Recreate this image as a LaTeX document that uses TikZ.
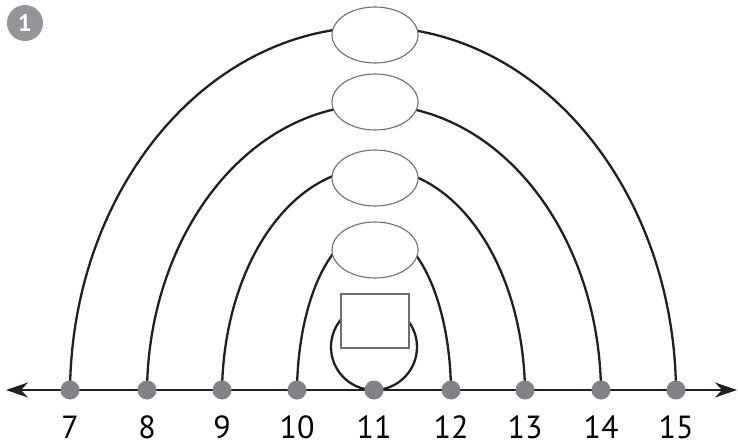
\documentclass[tikz,border=0pt]{standalone}
\usepackage{fontspec}
\setmainfont{PT Sans}
\usetikzlibrary{arrows.meta,shapes.geometric}
\definecolor{ink}{HTML}{231F20}
\definecolor{dotgray}{HTML}{808285}
\definecolor{shapegray}{HTML}{6D6E71}
\definecolor{badgegray}{HTML}{939598}
\begin{document}
\begin{tikzpicture}[x=1pt,y=1pt,
  arcline/.style={draw=ink,line width=2.3pt},
  blank/.style={shape=ellipse,minimum width=86pt,minimum height=56pt,inner sep=0pt,draw=shapegray,line width=1.1pt,fill=white},
  boxblank/.style={shape=rectangle,minimum width=68pt,minimum height=54pt,inner sep=0pt,draw=shapegray,line width=1.1pt,fill=white},
  dot/.style={circle,fill=dotgray,minimum size=19pt,inner sep=0pt},
  lbl/.style={font=\fontsize{32}{32}\selectfont,text=black,inner sep=0pt,anchor=base},
  badge/.style={circle,fill=badgegray,minimum size=36pt,inner sep=0pt,text=white,font=\fontsize{24}{24}\selectfont\bfseries}
]
\useasboundingbox (0,0) rectangle (738,445);
% badge
\node[badge] (badge) at (25,422) {1};
% number line
\coordinate (L) at (6,55);
\coordinate (R) at (737,55);
\draw[draw=ink,line width=2pt,{Stealth[length=22pt,width=15pt,inset=7pt]}-{Stealth[length=22pt,width=15pt,inset=7pt]}] (L) -- (R);
% dot coordinates
\coordinate (p7) at (70,55);
\coordinate (p8) at (147,55);
\coordinate (p9) at (222,55);
\coordinate (p10) at (297,55);
\coordinate (p11) at (374,55);
\coordinate (p12) at (451,55);
\coordinate (p13) at (525,55);
\coordinate (p14) at (601,55);
\coordinate (p15) at (676,55);
% arc tops
\coordinate (tA) at (373,418);
\coordinate (tB) at (374,340);
\coordinate (tC) at (373.5,277);
\coordinate (tD) at (374,216);
% arcs
\draw[arcline] (p7) .. controls +(2,200) and +(-167,0) .. (tA) .. controls +(167,0) and +(-2,200) .. (p15);
\draw[arcline] (p8) .. controls +(2,157) and +(-125,0) .. (tB) .. controls +(125,0) and +(-2,157) .. (p14);
\draw[arcline] (p9) .. controls +(2,123) and +(-84,0) .. (tC) .. controls +(84,0) and +(-2,123) .. (p13);
\draw[arcline] (p10) .. controls +(1,89) and +(-43,0) .. (tD) .. controls +(43,0) and +(-1,89) .. (p12);
% loop at 11
\draw[arcline] (p11) arc[start angle=-90,delta angle=360,radius=43];
% blanks
\node[blank] (e1) at (375,410) {};
\node[blank] (e2) at (375,343) {};
\node[blank] (e3) at (375,267) {};
\node[blank] (e4) at (375,195) {};
\node[boxblank] (sq) at (375,124) {};
% dots and labels
\foreach \n in {7,...,15}{
  \node[dot] (d\n) at (p\n) {};
  \node[lbl] (n\n) at ([yshift=-48pt]p\n) {\n};
}
\end{tikzpicture}
\end{document}
